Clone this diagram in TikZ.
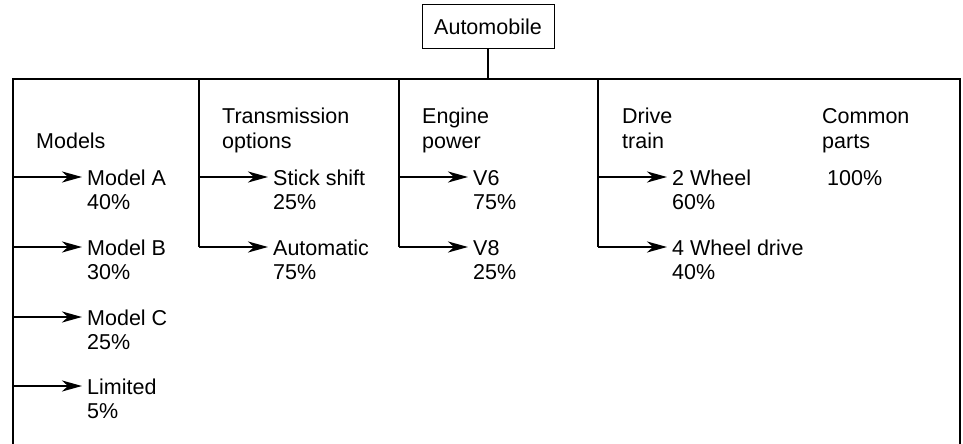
\documentclass[tikz,border=0pt]{standalone}
\usepackage{fontspec}
\setmainfont{Liberation Sans}
\usetikzlibrary{arrows.meta}
\begin{document}
\begin{tikzpicture}[x=1pt,y=-1pt,
  frame/.style={line width=2.4pt},
  arr/.style={line width=2.4pt,-{Stealth[length=20pt,width=11pt,inset=6pt]}},
  lbl/.style={anchor=base west,inner sep=0pt,align=left,
    font=\fontsize{21.5}{24.5}\selectfont},
  topbox/.style={draw,line width=1pt,minimum width=132pt,minimum height=44pt,
    inner sep=0pt,font=\fontsize{21.5}{24.5}\selectfont}]
\useasboundingbox (0,0) rectangle (963,444);

% root box and its stem
\node[topbox] (auto) at (488,27) {Automobile};
\coordinate (topline) at (488,79);
\draw[frame] (auto.south) -- (topline);

% outer frame (open at the bottom)
\coordinate (fl) at (13,444);
\coordinate (flt) at (13,79);
\coordinate (frt) at (960,79);
\coordinate (fr) at (960,444);
\draw[frame] (fl) -- (flt) -- (frt) -- (fr);

% column headers (the base anchor sits on the last line)
\node[lbl] (hmod) at (36,148) {Models};
\node[lbl] (htra) at (222,148) {Transmission\\options};
\node[lbl] (heng) at (422,148) {Engine\\power};
\node[lbl] (hdri) at (622,148) {Drive\\train};
\node[lbl] (hcom) at (822,148) {Common\\parts};
\node[lbl] (pcom) at (827,185) {100\%};

% Models column
\foreach \n/\y/\t/\p in {ma/177/Model A/40, mb/247/Model B/30, mc/317/Model C/25, ml/386/Limited/5}{
  \coordinate (s\n) at (13,\y);
  \coordinate (e\n) at (82,\y);
  \node[lbl] (\n) at (87,\y+32.5) {\t\\\p\%};
  \draw[arr] (s\n) -- (e\n);
}

% Transmission, engine and drive columns
\foreach \c/\x/\ta/\pa/\tb/\pb in {tr/199/Stick shift/25/Automatic/75,
                                    en/399/V6/75/V8/25,
                                    dr/598/2 Wheel/60/4 Wheel drive/40}{
  \coordinate (\c top) at (\x,79);
  \coordinate (\c a) at (\x,177);
  \coordinate (\c b) at (\x,247);
  \coordinate (\c ta) at (\x+69,177);
  \coordinate (\c tb) at (\x+69,247);
  \node[lbl] (\c na) at (\x+74,209.5) {\ta\\\pa\%};
  \node[lbl] (\c nb) at (\x+74,279.5) {\tb\\\pb\%};
  \draw[frame] (\c top) -- (\c b);
  \draw[arr] (\c a) -- (\c ta);
  \draw[arr] (\c b) -- (\c tb);
}
\end{tikzpicture}
\end{document}
